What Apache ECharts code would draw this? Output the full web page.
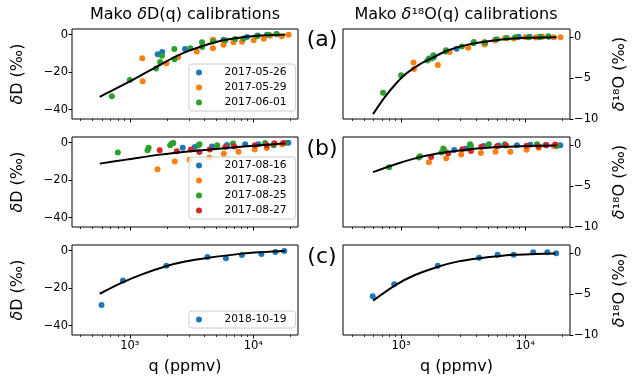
<!DOCTYPE html>
<html>
<head>
<meta charset="utf-8">
<script src="https://cdn.jsdelivr.net/npm/echarts@6/dist/echarts.min.js"></script>
<style>
html, body { margin: 0; padding: 0; background: #fff; }
#chart { width: 638px; height: 382px; }
</style>
</head>
<body>
<div id="chart"></div>
<script>
// q in ppmv, deltas in permil
const xLim = [340, 23000];
const dDLim = [-45, 3];
const d18OLim = [-10, 1];
const majorTicksQ = [1000, 10000];
const minorTicksQ = [400, 500, 600, 700, 800, 900, 2000, 3000, 4000, 5000, 6000, 7000, 8000, 9000, 20000];
const dDTicks = [-40, -20, 0];
const d18OTicks = [-10, -5, 0];

// (a)
const q_0526 = [1680, 1830, 2800, 4750, 5740, 8880, 10840, 12900, 15500];
const dD_0526 = [-10.4, -9.3, -7.7, -3.0, -2.7, -1.3, -0.5, 0.0, 0.2];
const d18O_0526 = [-2.6, -2.45, -1.4, -0.8, -0.3, 0.05, 0.05, 0.0, 0.05];

const q_0529 = [1260, 1270, 1980, 2460, 3480, 4700, 4710, 5740, 6900, 8100, 10050, 12150, 13750, 17000, 19300];
const dD_0529 = [-12.6, -24.8, -15.2, -12.0, -9.0, -2.7, -7.2, -5.4, -4.0, -3.8, -3.0, -2.2, -0.5, -0.9, 0.0];
const d18O_0529 = [-3.1, -3.9, -3.4, -1.8, -1.3, -0.6, -0.9, -0.4, -0.1, -0.15, 0.0, -0.05, 0.05, 0.0, 0.0];

const q_0601 = [715, 1000, 1630, 1760, 1820, 2290, 2300, 3090, 3840, 3850, 4700, 5920, 7140, 8340, 10700, 13300, 15400];
const dD_0601 = [-32.8, -24.2, -18.1, -14.6, -11.3, -7.7, -13.1, -7.2, -4.1, -6.6, -3.6, -3.05, -2.3, -2.0, -0.9, 0.0, 0.4];
const d18O_0601 = [-6.8, -4.65, -2.85, -2.6, -2.2, -1.75, -1.6, -1.15, -0.75, -0.6, -0.65, -0.25, -0.1, 0.0, 0.0, 0.05, 0.1];

const fitA_dD_q = [570, 710, 1000, 1300, 1750, 2300, 3100, 4750, 6900, 11400, 18200];
const fitA_dD = [-33.2, -30.0, -24.9, -20.8, -16.2, -12.0, -8.3, -4.3, -2.1, -0.5, 0.0];
const fitA_d18O_q = [594, 736, 900, 1100, 1400, 1800, 2400, 3600, 6000, 10300, 17900];
const fitA_d18O = [-9.4, -7.35, -5.75, -4.45, -3.35, -2.5, -1.6, -0.85, -0.33, -0.08, 0.0];

// (b)
const q_0816 = [2680, 3360, 4630, 6120, 8590, 11000, 14750, 19200];
const dD_0816 = [-2.7, -2.3, -2.0, -1.2, -0.9, -0.9, -0.5, 0.0];
const d18O_0816 = [-0.6, -0.4, -0.1, -0.05, 0.0, 0.05, 0.05, 0.0];

const q_0823 = [1675, 2310, 3050, 4400, 5770, 7590, 10280, 12850, 17050];
const dD_0823 = [-14.2, -10.1, -9.1, -8.0, -5.9, -4.8, -3.6, -2.8, -0.9];
const d18O_0823 = [-2.1, -1.6, -1.15, -0.95, -0.8, -0.8, -0.55, -0.3, -0.1];

const q_0825 = [800, 1390, 1420, 2120, 2190, 2250, 3600, 3660, 5100, 6850, 12450, 14600, 18000];
const dD_0825 = [-5.3, -4.1, -2.7, -1.4, -0.5, -0.2, -1.4, -0.9, -1.4, -0.5, -0.2, -1.4, -0.2];
const d18O_0825 = [-2.7, -1.5, -1.35, -0.9, -0.4, -0.7, 0.1, -0.1, 0.1, 0.1, 0.1, 0.0, -0.1];

const q_0827 = [1745, 2400, 3120, 3660, 4440, 5930, 7000, 10280, 12850, 14850, 17500];
const dD_0827 = [-4.1, -4.6, -3.6, -5.0, -3.6, -2.3, -2.0, -1.4, -1.4, -0.5, -0.2];
const d18O_0827 = [-1.45, -1.0, -0.5, -0.7, -0.2, -0.12, -0.05, -0.08, -0.12, 0.0, 0.08];

const fitB_dD_q = [570, 940, 1754, 3275, 6110, 11400, 18000];
const fitB_dD = [-11.2, -9.07, -6.4, -4.44, -2.84, -1.42, -0.4];
const fitB_d18O_q = [594, 941, 1445, 2222, 3631, 6709, 10500, 17900];
const fitB_d18O = [-3.3, -2.24, -1.43, -0.9, -0.49, -0.2, -0.09, -0.04];

// (c)
const q_1019 = [590, 880, 1975, 4250, 6000, 8080, 11630, 15100, 17800];
const dD_1019 = [-29.0, -15.9, -8.0, -3.4, -4.1, -2.3, -1.8, -0.7, -0.2];
const d18O_1019 = [-5.25, -3.8, -1.55, -0.55, -0.2, -0.2, 0.1, 0.1, 0.0];

const fitC_dD_q = [570, 855, 1283, 1962, 2800, 4200, 8090, 12000, 17990];
const fitC_dD = [-23.0, -17.2, -12.4, -8.3, -5.8, -3.9, -1.6, -0.8, -0.2];
const fitC_d18O_q = [594, 901, 1278, 1990, 2900, 4310, 8070, 12000, 17580];
const fitC_d18O = [-5.8, -3.9, -2.7, -1.65, -1.0, -0.62, -0.2, -0.1, -0.04];

const colors = ['#1f77b4', '#ff7f0e', '#2ca02c', '#d62728'];
const FONT = 'DejaVu Sans';

const rows = [
    {
        names: ['2017-05-26', '2017-05-29', '2017-06-01'],
        q: [q_0526, q_0529, q_0601],
        dD: [dD_0526, dD_0529, dD_0601],
        d18O: [d18O_0526, d18O_0529, d18O_0601],
        fitD: [fitA_dD_q, fitA_dD],
        fitO: [fitA_d18O_q, fitA_d18O],
        legendTop: 64
    },
    {
        names: ['2017-08-16', '2017-08-23', '2017-08-25', '2017-08-27'],
        q: [q_0816, q_0823, q_0825, q_0827],
        dD: [dD_0816, dD_0823, dD_0825, dD_0827],
        d18O: [d18O_0816, d18O_0823, d18O_0825, d18O_0827],
        fitD: [fitB_dD_q, fitB_dD],
        fitO: [fitB_d18O_q, fitB_d18O],
        legendTop: 157
    },
    {
        names: ['2018-10-19'],
        q: [q_1019],
        dD: [dD_1019],
        d18O: [d18O_1019],
        fitD: [fitC_dD_q, fitC_dD],
        fitO: [fitC_d18O_q, fitC_d18O],
        legendTop: 311
    }
];

const lg = v => Math.log10(v);
const minus = v => String(v).replace('-', '\u2212');
const supDigits = {3: '\u00b3', 4: '\u2074'};
const colLeft = [72, 343];
const colWidth = [226, 227];
const rowTop = [29, 137, 245];
const rowHeight = 90;

const grid = [], xAxis = [], yAxis = [], series = [], legend = [];

rows.forEach((row, r) => {
    [0, 1].forEach(c => {
        const g = r * 2 + c;
        grid.push({
            left: colLeft[c], top: rowTop[r], width: colWidth[c], height: rowHeight,
            show: true, borderColor: '#000', borderWidth: 1, backgroundColor: 'transparent',
            outerBoundsMode: 'none'
        });
        const bottomRow = r === rows.length - 1;
        xAxis.push({
            gridIndex: g, type: 'value', position: 'bottom', min: lg(xLim[0]), max: lg(xLim[1]),
            axisLine: {show: false, onZero: false}, splitLine: {show: false},
            axisTick: {show: true, length: 3.5, lineStyle: {color: '#000', width: 1},
                customValues: majorTicksQ.map(lg)},
            axisLabel: {show: bottomRow, customValues: majorTicksQ.map(lg),
                formatter: v => '10' + supDigits[Math.round(v)],
                color: '#000', fontSize: 11.5, fontFamily: FONT, margin: 5},
            name: bottomRow ? 'q (ppmv)' : '', nameLocation: 'middle', nameGap: 24,
            nameTextStyle: {color: '#000', fontSize: 16, fontFamily: FONT}
        });
        xAxis.push({
            gridIndex: g, type: 'value', position: 'bottom', min: lg(xLim[0]), max: lg(xLim[1]),
            axisLine: {show: false, onZero: false}, splitLine: {show: false}, axisLabel: {show: false},
            axisTick: {show: true, length: 2, lineStyle: {color: '#000', width: 0.8},
                customValues: minorTicksQ.map(lg)}
        });
        const lim = c === 0 ? dDLim : d18OLim;
        const ticks = c === 0 ? dDTicks : d18OTicks;
        yAxis.push({
            gridIndex: g, type: 'value', position: c === 0 ? 'left' : 'right',
            min: lim[0], max: lim[1],
            axisLine: {show: false, onZero: false}, splitLine: {show: false},
            axisTick: {show: true, length: 3.5, lineStyle: {color: '#000', width: 1}, customValues: ticks},
            axisLabel: {customValues: ticks, formatter: minus, color: '#000',
                fontSize: 11.5, fontFamily: FONT, margin: 4},
            name: c === 0 ? '{i|\u03b4}D (\u2030)' : '{i|\u03b4}\u00b9\u2078O (\u2030)',
            nameLocation: 'middle', nameRotate: 90, nameGap: c === 0 ? 46 : 42,
            nameTextStyle: {color: '#000', fontSize: 16, fontFamily: FONT,
                rich: {i: {fontStyle: 'italic', fontSize: 16, fontFamily: FONT, color: '#000'}}}
        });

        const vals = c === 0 ? row.dD : row.d18O;
        row.names.forEach((name, k) => {
            series.push({
                type: 'scatter', name: name, xAxisIndex: g * 2, yAxisIndex: g,
                data: row.q[k].map((q, i) => [lg(q), vals[k][i]]),
                symbolSize: 6, itemStyle: {color: colors[k], opacity: 1}, z: 2
            });
        });
        const fit = c === 0 ? row.fitD : row.fitO;
        series.push({
            type: 'line', xAxisIndex: g * 2, yAxisIndex: g, silent: true,
            data: fit[0].map((q, i) => [lg(q), fit[1][i]]),
            symbol: 'none', smooth: 0.3,
            lineStyle: {color: '#000', width: 2}, z: 3
        });
    });
    legend.push({
        data: row.names, orient: 'vertical', left: 189, top: row.legendTop,
        icon: 'circle', itemWidth: 31, itemHeight: 6, itemGap: 0,
        padding: [1, 9, 1, 7], selectedMode: false,
        backgroundColor: 'rgba(255,255,255,0.8)', borderColor: '#cccccc',
        borderWidth: 1, borderRadius: 3,
        textStyle: {color: '#000', fontSize: 10.7, fontFamily: FONT, lineHeight: 15,
            padding: [0, 0, 0, 5]}
    });
});

const textStyle = (text, size) => ({
    text: text, fontSize: size, fontFamily: FONT, fill: '#000',
    align: 'center', verticalAlign: 'middle',
    rich: {i: {fontStyle: 'italic', fontSize: size, fontFamily: FONT, fill: '#000'}}
});

const chart = echarts.init(document.getElementById('chart'));
chart.setOption({
    animation: false,
    textStyle: {fontFamily: FONT},
    grid: grid,
    xAxis: xAxis,
    yAxis: yAxis,
    legend: legend,
    series: series,
    graphic: [
        {type: 'text', x: 185, y: 15, style: textStyle('Mako {i|\u03b4}D(q) calibrations', 16)},
        {type: 'text', x: 456, y: 15, style: textStyle('Mako {i|\u03b4}\u00b9\u2078O(q) calibrations', 16)},
        {type: 'text', x: 322, y: 40, style: textStyle('(a)', 22)},
        {type: 'text', x: 322, y: 149, style: textStyle('(b)', 22)},
        {type: 'text', x: 322, y: 257, style: textStyle('(c)', 22)}
    ]
});
</script>
</body>
</html>
